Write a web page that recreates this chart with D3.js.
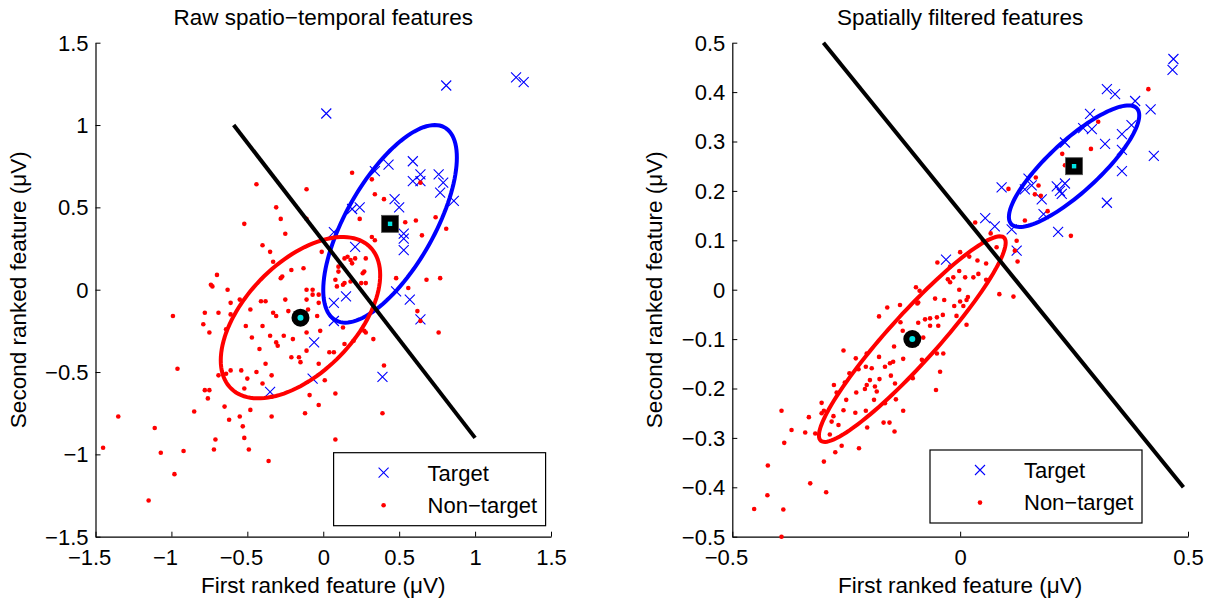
<!DOCTYPE html>
<html>
<head>
<meta charset="utf-8">
<script src="https://cdn.jsdelivr.net/npm/d3@7"></script>
<style>
  body { margin: 0; background: #fff; }
  svg text { font-family: "Liberation Sans", Arial, Helvetica, sans-serif; fill: #000; }
</style>
</head>
<body>
<svg id="fig" width="1209" height="601"></svg>
<script>
// ---------- Raw spatio-temporal features ----------
const rawTitle = "Raw spatio\u2212temporal features";
const rawTicks = [-1.5, -1, -0.5, 0, 0.5, 1, 1.5];
const rawDomain = [-1.5, 1.5];
const rawTarget = [
  [0.02,1.07],[0.81,1.24],[1.27,1.29],[1.32,1.26],[0.43,0.76],[0.59,0.78],[0.34,0.72],
  [0.64,0.70],[0.59,0.66],[0.64,0.66],[0.76,0.70],[0.79,0.65],[0.77,0.59],[0.86,0.54],
  [0.47,0.55],[0.50,0.50],[0.19,0.49],[0.24,0.50],[0.53,0.34],[0.53,0.31],[0.53,0.24],
  [0.07,0.35],[0.21,0.26],[0.15,-0.04],[0.07,-0.08],[0.07,-0.19],[0.48,-0.01],[0.57,-0.06],
  [0.64,-0.18],[-0.06,-0.32],[-0.07,-0.54],[-0.35,-0.62],[0.39,-0.53]
];
const rawNonTarget = [
  [-0.44,0.64],[-0.11,0.61],[0.19,0.71],[0.32,0.67],[-0.52,0.40],[-0.31,0.50],[-0.28,0.43],
  [-0.25,0.34],[-0.11,0.43],[0.34,0.58],[0.40,0.55],[0.24,0.43],[0.54,0.41],[0.61,0.42],
  [0.65,0.33],[0.74,0.44],[0.81,0.37],[0.64,0.65],[0.32,0.32],[0.34,0.30],[-0.40,0.27],
  [-0.35,0.23],[-0.33,0.17],[-0.27,0.08],[-0.28,0.07],[-0.21,0.12],[-0.13,0.13],[-0.70,0.09],
  [-0.74,0.03],[-0.73,0.02],[-0.63,0.00],[-0.61,-0.08],[-0.55,-0.06],[-0.48,-0.12],[-0.41,-0.07],
  [-0.38,-0.07],[-0.33,-0.14],[-0.31,-0.16],[-0.25,-0.06],[-0.11,0.00],[-0.07,0.00],[-0.07,-0.03],
  [-0.03,-0.03],[-0.03,-0.08],[-0.11,-0.06],[-0.78,-0.14],[-0.69,-0.14],[-0.23,-0.13],[-0.01,0.23],
  [0.09,0.02],[0.13,0.03],[0.14,0.19],[0.16,0.20],[0.18,0.18],[0.19,0.16],[0.21,0.19],
  [0.28,0.19],[0.26,0.10],[0.27,0.11],[0.10,0.11],[0.08,0.06],[0.10,0.14],[0.14,0.04],
  [0.18,0.05],[0.25,0.04],[0.28,0.04],[0.48,0.07],[0.56,0.01],[0.68,0.06],[0.77,0.07],
  [0.62,-0.13],[-0.10,-0.12],[-0.99,-0.16],[-0.61,-0.15],[-0.04,-0.16],
  [-0.79,-0.21],[-0.75,-0.26],[-0.64,-0.24],[-0.51,-0.22],[-0.47,-0.29],[-0.40,-0.22],[-0.35,-0.28],
  [-0.31,-0.32],[-0.30,-0.34],[-0.26,-0.28],[-0.21,-0.41],[-0.16,-0.41],[-0.15,-0.44],[-0.11,-0.26],
  [-0.11,-0.37],[-0.02,-0.25],[-0.03,-0.45],[0.04,-0.38],[0.07,-0.38],[0.13,-0.23],[0.14,-0.33],
  [0.20,-0.31],[0.27,-0.25],[0.28,-0.26],[0.33,-0.30],[0.40,-0.46],[0.39,-0.75],[-0.61,-0.49],
  [-0.54,-0.49],[-0.50,-0.54],[-0.69,-0.52],[-0.64,-0.51],[-0.44,-0.50],[-0.40,-0.57],[-0.38,-0.45],
  [-0.34,-0.52],[-0.34,-0.77],[-0.48,-0.73],[-0.52,-0.60],[-0.55,-0.77],[-0.53,-0.83],[-0.52,-0.90],
  [-0.49,-0.97],[-0.36,-1.04],[-0.65,-0.71],[-0.62,-0.79],[-0.71,-0.91],[-0.72,-0.97],[-0.85,-0.74],
  [-0.76,-0.66],[-0.78,-0.61],[-0.75,-0.61],[-0.96,-0.48],[-1.35,-0.77],[-1.45,-0.96],[-1.11,-0.84],
  [-1.07,-0.99],[-0.92,-0.98],[-0.98,-1.12],[-1.15,-1.28],[-0.12,-0.75],[-0.03,-0.70],[-0.09,-0.64],
  [0.01,-0.55],[0.08,-0.63],[0.08,-0.91],[-0.42,-0.36],[-0.20,-0.30],[-0.34,-0.65],[0.76,-0.26],
  [0.64,-0.19]
];
const rawTargetMean = [0.44, 0.40];
const rawNonTargetMean = [-0.15, -0.17];
// scaled covariance [xx, xy, yy] of each class contour
const rawTargetCov = [0.1936, 0.177, 0.36];
const rawNonTargetCov = [0.2756, 0.136, 0.24];
const rawBoundary = [[-0.59, 1.0], [1.0, -0.9]];

// ---------- Spatially filtered features ----------
const filtTitle = "Spatially filtered features";
const filtXTicks = [-0.5, 0, 0.5];
const filtYTicks = [-0.5, -0.4, -0.3, -0.2, -0.1, 0, 0.1, 0.2, 0.3, 0.4, 0.5];
const filtDomain = [-0.5, 0.5];
const filtTarget = [
  [0.468,0.467],[0.466,0.445],[0.322,0.406],[0.340,0.396],[0.384,0.382],[0.418,0.365],[0.285,0.356],
  [0.270,0.327],[0.289,0.325],[0.230,0.298],[0.318,0.295],[0.355,0.315],[0.376,0.333],[0.355,0.283],
  [0.425,0.271],[0.355,0.240],[0.322,0.176],[0.150,0.225],[0.157,0.211],[0.091,0.207],[0.142,0.203],
  [0.212,0.209],[0.230,0.215],[0.219,0.200],[0.223,0.194],[0.179,0.183],[0.183,0.153],[0.055,0.145],
  [0.076,0.128],[0.113,0.122],[0.215,0.117],[0.124,0.079],[-0.031,0.061]
];
const filtNonTarget = [
  [0.033,0.136],[0.067,0.114],[0.050,0.099],[0.080,0.086],[0.124,0.099],[0.120,0.079],[0.126,0.057],
  [0.117,-0.014],[0.086,-0.009],[0.000,0.076],[0.020,0.067],[0.038,0.059],[0.057,0.053],[-0.022,0.047],
  [-0.002,0.038],[0.011,0.025],[0.029,0.025],[0.040,0.032],[0.057,0.020],[-0.050,0.055],[-0.027,0.021],
  [-0.022,0.015],[-0.015,0.025],[-0.002,0.000],[0.017,-0.015],[0.014,-0.021],[0.007,-0.033],[0.000,-0.024],
  [-0.013,-0.033],[-0.008,-0.053],[-0.035,-0.021],[-0.038,-0.051],[-0.051,-0.056],[-0.066,-0.058],[-0.048,-0.073],
  [0.014,-0.071],[-0.097,0.005],[-0.089,-0.002],[-0.094,-0.028],[-0.132,-0.031],[-0.160,-0.036],[-0.131,-0.066],
  [-0.178,-0.054],[-0.092,-0.067],[-0.126,-0.083],[-0.066,-0.073],[-0.106,-0.095],[-0.099,-0.100],[-0.081,-0.097],
  [-0.125,-0.140],[-0.104,-0.179],[-0.084,-0.142],[-0.051,-0.129],[-0.037,-0.129],[-0.044,-0.166],[-0.053,-0.203],
  [-0.147,-0.146],[-0.154,-0.149],[-0.165,-0.156],[-0.145,-0.115],[-0.178,-0.136],[-0.205,-0.129],[-0.207,-0.156],
  [-0.194,-0.159],[-0.198,-0.183],[-0.187,-0.196],[-0.205,-0.193],[-0.209,-0.201],[-0.183,-0.206],[-0.229,-0.139],
  [-0.223,-0.161],[-0.243,-0.169],[-0.253,-0.188],[-0.271,-0.208],[-0.277,-0.193],[-0.256,-0.123],[-0.228,-0.208],
  [-0.250,-0.223],[-0.256,-0.244],[-0.230,-0.249],[-0.207,-0.245],[-0.189,-0.223],[-0.165,-0.230],[-0.141,-0.222],
  [-0.125,-0.245],[-0.143,-0.190],[-0.177,-0.181],[-0.152,-0.174],[-0.278,-0.256],[-0.304,-0.229],[-0.299,-0.245],
  [-0.282,-0.267],[-0.267,-0.274],[-0.286,-0.293],[-0.332,-0.258],[-0.370,-0.284],[-0.340,-0.289],[-0.318,-0.291],
  [-0.304,-0.250],[-0.260,-0.316],[-0.274,-0.329],[-0.222,-0.321],[-0.204,-0.279],[-0.168,-0.269],[-0.155,-0.269],
  [-0.144,-0.287],[-0.299,-0.348],[-0.294,-0.410],[-0.329,-0.392],[-0.392,-0.245],[-0.386,-0.310],[-0.422,-0.356],
  [-0.423,-0.416],[-0.452,-0.444],[-0.388,-0.445],[-0.392,-0.500],[-0.055,-0.018],[-0.077,-0.060],[-0.092,-0.026],
  [0.413,0.406],[0.303,0.340],[0.287,0.285],[0.224,0.275],[0.230,0.252],[0.166,0.227],[0.172,0.211],
  [0.164,0.193],[0.177,0.190],[0.192,0.159],[0.142,0.140],[0.106,0.204],[0.243,0.109]
];
const filtTargetMean = [0.25, 0.25];
const filtNonTargetMean = [-0.105, -0.10];
const filtTargetCov = [0.02045, 0.0147, 0.01513];
const filtNonTargetCov = [0.042, 0.040, 0.0433];
const filtBoundary = [[-0.30, 0.50], [0.49, -0.40]];

const legendLabels = ["Target", "Non\u2212target"];
const xLabel = "First ranked feature (\u03bcV)";
const yLabel = "Second ranked feature (\u03bcV)";

// ---------- layout ----------
const panels = [
  { title: rawTitle, xDomain: rawDomain, yDomain: rawDomain, xTicks: rawTicks, yTicks: rawTicks,
    target: rawTarget, nonTarget: rawNonTarget, tMean: rawTargetMean, nMean: rawNonTargetMean,
    tCov: rawTargetCov, nCov: rawNonTargetCov, boundary: rawBoundary,
    left: 95.5, right: 551, legend: { x: 333.6, y: 452.7 } },
  { title: filtTitle, xDomain: filtDomain, yDomain: filtDomain, xTicks: filtXTicks, yTicks: filtYTicks,
    target: filtTarget, nonTarget: filtNonTarget, tMean: filtTargetMean, nMean: filtNonTargetMean,
    tCov: filtTargetCov, nCov: filtNonTargetCov, boundary: filtBoundary,
    left: 732.3, right: 1188, legend: { x: 930, y: 450 } }
];
const plotTop = 42.7, plotBottom = 536.7;
const FS = 22;

const svg = d3.select("#fig");
const fmt = v => (v < 0 ? "\u2212" : "") + String(Math.abs(v));

function ellipsePoints(mean, cov) {
  const l11 = Math.sqrt(cov[0]);
  const l21 = cov[1] / l11;
  const l22 = Math.sqrt(cov[2] - l21 * l21);
  return d3.range(0, 121).map(i => {
    const t = i / 120 * 2 * Math.PI;
    return [mean[0] + l11 * Math.cos(t), mean[1] + l21 * Math.cos(t) + l22 * Math.sin(t)];
  });
}

const crossPath = "M-5,-5L5,5M-5,5L5,-5";

panels.forEach(p => {
  const x = d3.scaleLinear().domain(p.xDomain).range([p.left, p.right]);
  const y = d3.scaleLinear().domain(p.yDomain).range([plotBottom, plotTop]);
  const g = svg.append("g");

  // axes (left and bottom only, ticks pointing inward)
  const xAxis = d3.axisBottom(x).tickValues(p.xTicks).tickSizeInner(-5).tickSizeOuter(0).tickPadding(12.5).tickFormat(fmt);
  const yAxis = d3.axisLeft(y).tickValues(p.yTicks).tickSizeInner(-5).tickSizeOuter(0).tickPadding(7).tickFormat(fmt);
  const gx = g.append("g").attr("transform", `translate(0,${plotBottom})`).call(xAxis);
  const gy = g.append("g").attr("transform", `translate(${p.left},0)`).call(yAxis);
  [gx, gy].forEach(a => {
    a.select(".domain").attr("stroke", "#000").attr("stroke-width", 1.2);
    a.selectAll(".tick line").attr("stroke", "#000").attr("stroke-width", 1);
    a.selectAll(".tick text").attr("font-size", FS).attr("font-family", null).style("fill", "#000");
  });
  // negative labels: the number stays centred on its tick, the minus hangs to the left
  gx.selectAll(".tick text").attr("dx", d => d < 0 ? "-0.29em" : 0);
  gy.selectAll(".tick text").attr("dy", "0.34em");

  // scatter: targets then non-targets
  g.append("g").selectAll("path").data(p.target).join("path")
    .attr("d", crossPath)
    .attr("transform", d => `translate(${x(d[0])},${y(d[1])})`)
    .attr("stroke", "#0000ff").attr("stroke-width", 1.1).attr("fill", "none");
  g.append("g").selectAll("circle").data(p.nonTarget).join("circle")
    .attr("cx", d => x(d[0])).attr("cy", d => y(d[1])).attr("r", 2.3)
    .attr("fill", "#ff0000");

  // class contours
  const line = d3.line().x(d => x(d[0])).y(d => y(d[1])).curve(d3.curveLinearClosed);
  g.append("path").attr("d", line(ellipsePoints(p.tMean, p.tCov)))
    .attr("fill", "none").attr("stroke", "#0000ff").attr("stroke-width", 4);
  g.append("path").attr("d", line(ellipsePoints(p.nMean, p.nCov)))
    .attr("fill", "none").attr("stroke", "#ff0000").attr("stroke-width", 4);

  // decision boundary
  g.append("path").attr("d", d3.line().x(d => x(d[0])).y(d => y(d[1]))(p.boundary))
    .attr("fill", "none").attr("stroke", "#000").attr("stroke-width", 4);

  // class means
  g.append("circle").attr("cx", x(p.nMean[0])).attr("cy", y(p.nMean[1])).attr("r", 9).attr("fill", "#000");
  g.append("circle").attr("cx", x(p.nMean[0])).attr("cy", y(p.nMean[1])).attr("r", 3).attr("fill", "#00e5e5");
  g.append("rect").attr("x", x(p.tMean[0]) - 8.5).attr("y", y(p.tMean[1]) - 8.5)
    .attr("width", 17).attr("height", 17).attr("fill", "#000").attr("stroke", "#555").attr("stroke-width", 0.8);
  g.append("rect").attr("x", x(p.tMean[0]) - 2.2).attr("y", y(p.tMean[1]) - 2.2)
    .attr("width", 4.4).attr("height", 4.4).attr("fill", "#00e5e5");

  // title and axis labels
  const cx = (p.left + p.right) / 2;
  g.append("text").attr("x", cx).attr("y", 25).attr("text-anchor", "middle").attr("font-size", 22.5).text(p.title);
  g.append("text").attr("x", cx).attr("y", 593).attr("text-anchor", "middle").attr("font-size", 22.5).text(xLabel);
  g.append("text").attr("transform", `translate(${p.left - 70},${(plotTop + plotBottom) / 2}) rotate(-90)`)
    .attr("text-anchor", "middle").attr("font-size", 22.5).text(yLabel);

  // legend
  const lg = g.append("g").attr("transform", `translate(${p.legend.x},${p.legend.y})`);
  lg.append("rect").attr("width", 212).attr("height", 73).attr("fill", "#fff").attr("stroke", "#000").attr("stroke-width", 1.2);
  lg.append("path").attr("d", crossPath).attr("transform", "translate(50,20)")
    .attr("stroke", "#0000ff").attr("stroke-width", 1.1).attr("fill", "none");
  lg.append("circle").attr("cx", 50).attr("cy", 52.6).attr("r", 2.3).attr("fill", "#ff0000");
  lg.append("text").attr("x", 94).attr("y", 28).attr("font-size", FS).text(legendLabels[0]);
  lg.append("text").attr("x", 94).attr("y", 60).attr("font-size", FS).text(legendLabels[1]);
});
</script>
</body>
</html>
